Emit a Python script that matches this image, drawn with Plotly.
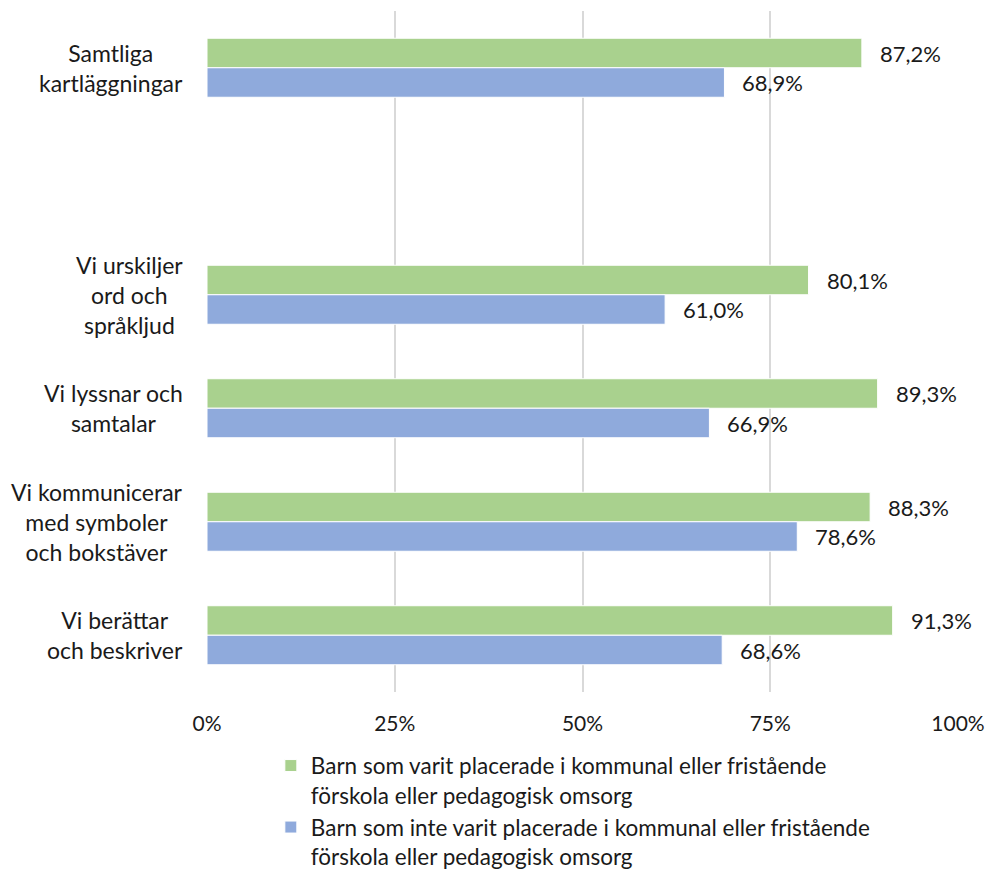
import plotly.graph_objects as go

categories = ["Samtliga<br>kartläggningar", "", "Vi urskiljer<br>ord och<br>språkljud",
              "Vi lyssnar och<br>samtalar", "Vi kommunicerar<br>med symboler<br>och bokstäver",
              "Vi berättar<br>och beskriver"]
placed = [87.2, None, 80.1, 89.3, 88.3, 91.3]
not_placed = [68.9, None, 61.0, 66.9, 78.6, 68.6]
series_names = ["Barn som varit placerade i kommunal eller fristående<br>förskola eller pedagogisk omsorg",
                "Barn som inte varit placerade i kommunal eller fristående<br>förskola eller pedagogisk omsorg"]
x_ticks = [0, 25, 50, 75, 100]
x_ticklabels = ["0%", "25%", "50%", "75%", "100%"]

FONT = "Source Sans Pro, Lato, Noto Sans, sans-serif"
GREEN = "#A9D18E"
BLUE = "#8FAADC"
TXT = "#1a1a1a"
BARGAP = 0.48
pos = list(range(len(categories)))

fig = go.Figure()
for vals, name, col in [(placed, series_names[0], GREEN), (not_placed, series_names[1], BLUE)]:
    fig.add_trace(go.Bar(
        y=pos, x=vals, orientation="h", name=name,
        marker=dict(color=col, line=dict(color="white", width=1)),
        hoverinfo="x+name",
    ))

half = (1 - BARGAP) / 4
annotations = []
for i, c in enumerate(categories):
    if c:
        annotations.append(dict(x=0, xref="paper", y=i, yref="y", text=c, showarrow=False,
                                xanchor="right", yanchor="middle", align="center", xshift=-22,
                                font=dict(size=23, color=TXT, family=FONT)))
for vals, off in [(placed, -half), (not_placed, half)]:
    for i, v in enumerate(vals):
        if v is not None:
            annotations.append(dict(x=v, y=i + off, xref="x", yref="y",
                                    text=f"{v:.1f}%".replace(".", ","), showarrow=False,
                                    xanchor="left", yanchor="middle", xshift=16,
                                    font=dict(size=22, color=TXT, family=FONT)))

fig.update_layout(
    width=989, height=870,
    margin=dict(l=207, r=31, t=11, b=178, autoexpand=False),
    paper_bgcolor="white", plot_bgcolor="white",
    barmode="group", bargap=BARGAP,
    font=dict(family=FONT, size=22, color=TXT),
    xaxis=dict(range=[0, 100], tickvals=x_ticks, ticktext=x_ticklabels,
               showgrid=True, gridcolor="#d9d9d9", gridwidth=2, zeroline=False,
               showline=False, ticks="", ticklen=0, tickfont=dict(size=21),
               ticklabelstandoff=17),
    yaxis=dict(range=[len(categories) - 0.5, -0.5], tickvals=pos, showticklabels=False,
               showgrid=False, zeroline=False, showline=False),
    legend=dict(orientation="v", x=0.085, xanchor="left", y=-0.077, yanchor="top",
                font=dict(size=22.5, family=FONT, color=TXT), traceorder="normal",
                itemwidth=30, valign="top", bgcolor="rgba(0,0,0,0)"),
    annotations=annotations,
    showlegend=True,
)

fig.write_html("out.html", config={"displayModeBar": False},
               post_script="document.body.style.margin='0';")
